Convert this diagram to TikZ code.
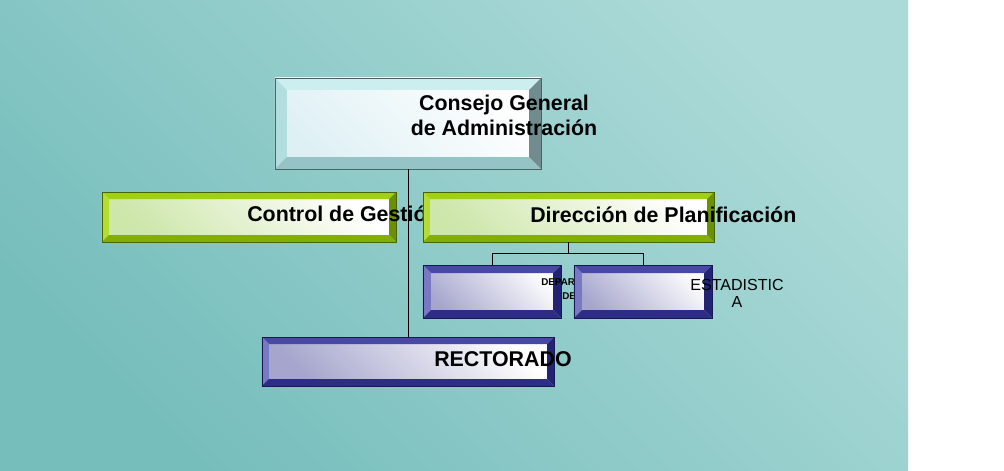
\documentclass[tikz,border=0pt]{standalone}
\usepackage{fontspec}
\setmainfont{Liberation Sans}
\usetikzlibrary{calc}

\definecolor{bgdark}{RGB}{118,190,188}
\definecolor{bglight}{RGB}{172,218,216}
\definecolor{cgtop}{RGB}{205,238,238}
\definecolor{cgleft}{RGB}{178,222,224}
\definecolor{cgbot}{RGB}{150,196,198}
\definecolor{cgright}{RGB}{112,140,142}
\definecolor{cgface}{RGB}{222,240,244}
\definecolor{grtop}{RGB}{160,208,20}
\definecolor{grleft}{RGB}{180,220,50}
\definecolor{grbot}{RGB}{130,175,0}
\definecolor{grright}{RGB}{105,145,0}
\definecolor{grface}{RGB}{205,230,170}
\definecolor{butop}{RGB}{72,72,165}
\definecolor{buleft}{RGB}{120,120,195}
\definecolor{bubot}{RGB}{45,45,135}
\definecolor{buright}{RGB}{35,35,115}
\definecolor{buface}{RGB}{165,165,205}

% bevelled frame round a box: node, width, top, left, bottom, right
\newcommand{\bevelframe}[6]{%
  \fill[#3] (#1.north west) -- (#1.north east) -- ($(#1.north east)+(-#2,#2)$) -- ($(#1.north west)+(#2,#2)$) -- cycle;
  \fill[#4] (#1.north west) -- ($(#1.north west)+(#2,#2)$) -- ($(#1.south west)+(#2,-#2)$) -- (#1.south west) -- cycle;
  \fill[#5] (#1.south west) -- ($(#1.south west)+(#2,-#2)$) -- ($(#1.south east)+(-#2,-#2)$) -- (#1.south east) -- cycle;
  \fill[#6] (#1.north east) -- (#1.south east) -- ($(#1.south east)+(-#2,-#2)$) -- ($(#1.north east)+(-#2,#2)$) -- cycle;
  \draw[#6!70!black,line width=0.5pt] (#1.north west) rectangle (#1.south east);
}

\begin{document}
\begin{tikzpicture}[
    x=0.025cm,y=-0.025cm,
    panel/.style={rectangle,inner sep=0,outer sep=0,shading=axis},
    cgbox/.style={panel,top color=white,bottom color=cgface,shading angle=-45,minimum width=6.65cm,minimum height=2.275cm},
    grbox/.style={panel,top color=white,bottom color=grface,shading angle=-45,minimum height=1.25cm},
    bubox/.style={panel,top color=white,bottom color=buface,shading angle=-45},
    txt/.style={inner sep=0,anchor=base west},
    bigtxt/.style={txt,font=\fontsize{15.2}{17.8}\selectfont\bfseries},
    conn/.style={draw=black,line width=0.7pt}
  ]
    \useasboundingbox (0,0) rectangle (1004,470);
    % dotted teal backdrop
    \shade[top color=bglight,bottom color=bgdark,shading angle=-45] (0,0) rectangle (908,470);

    % top box
    \node[cgbox] (cgad) at (408,123.5) {};
    \bevelframe{cgad}{12}{cgtop}{cgleft}{cgbot}{cgright}
    \node[bigtxt,anchor=center,align=center] (cgad-txt) at (504,115.7) {Consejo General\\de Administración};

    % second row
    \node[grbox,minimum width=7.35cm] (ctrl) at (249,217) {};
    \bevelframe{ctrl}{7}{grtop}{grleft}{grbot}{grright}
    \node[bigtxt] (ctrl-txt) at (247,221) {Control de Gestió};
    \node[grbox,minimum width=7.275cm] (dirp) at (568.5,217) {};
    \bevelframe{dirp}{7}{grtop}{grleft}{grbot}{grright}
    \node[bigtxt] (dirp-txt) at (530,222) {Dirección de Planificación};

    % small boxes
    \node[bubox,minimum width=3.45cm,minimum height=1.325cm] (dept) at (492,291.5) {};
    \bevelframe{dept}{8}{butop}{buleft}{bubot}{buright}
    \node[txt,font=\fontsize{7}{9}\selectfont\bfseries] (dept-txt1) at (541,285) {DEPAR};
    \node[txt,font=\fontsize{7}{9}\selectfont\bfseries] (dept-txt2) at (562,299) {DE};
    \node[bubox,minimum width=3.45cm,minimum height=1.325cm] (esta) at (643,291.5) {};
    \bevelframe{esta}{8}{butop}{buleft}{bubot}{buright}
    \node[inner sep=0,align=center,font=\fontsize{11.4}{12}\selectfont] (esta-txt) at (737,293.3) {ESTADISTIC\\A};

    % bottom box
    \node[bubox,minimum width=7.3cm,minimum height=1.225cm] (rect) at (408,361.5) {};
    \bevelframe{rect}{7}{butop}{buleft}{bubot}{buright}
    \node[bigtxt] (rect-txt) at (434,366) {RECTORADO};

    % lines
    \draw[conn] (cgad.south) -- (rect.north);
    \draw[conn] (dirp.south) -- ++(0,11) coordinate (fork) -| (dept.north);
    \draw[conn] (fork) -| (esta.north);
\end{tikzpicture}
\end{document}
